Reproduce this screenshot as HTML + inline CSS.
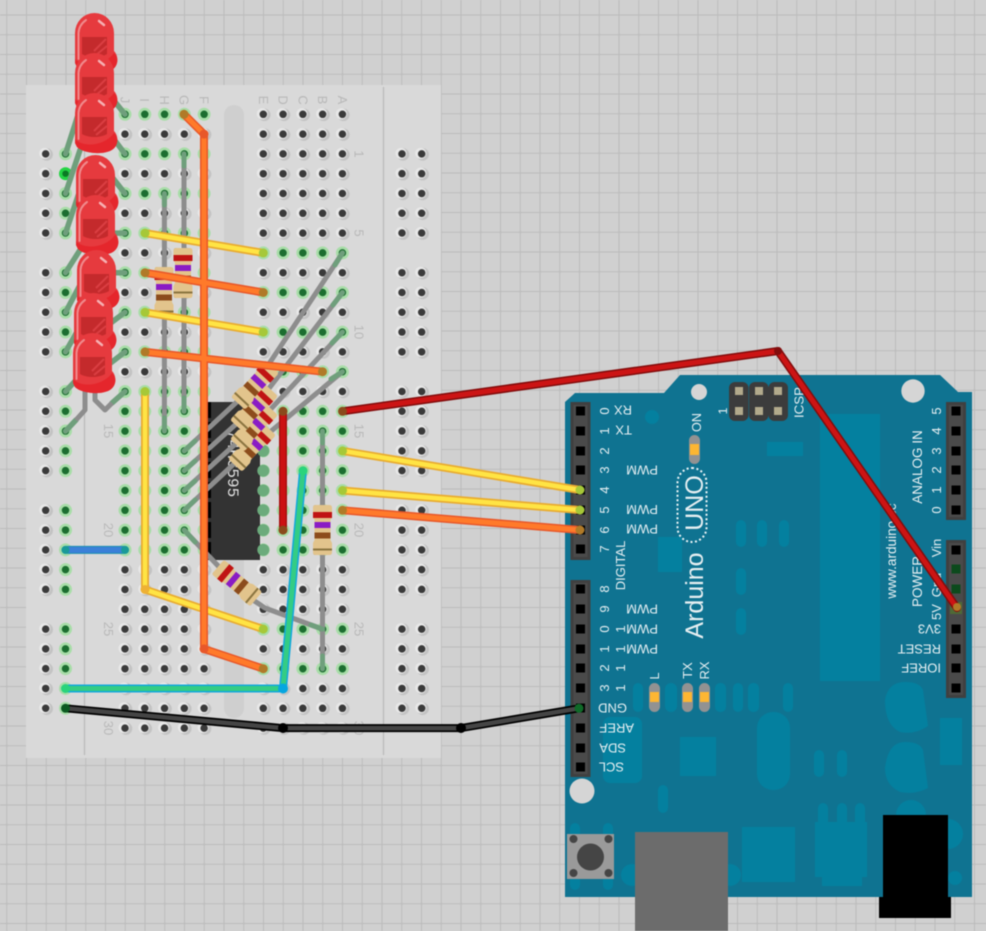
<!DOCTYPE html>
<html><head><meta charset="utf-8"><style>
html,body{margin:0;padding:0;background:#cfcfcf;overflow:hidden}
svg{display:block;filter:blur(.4px)}
text{font-family:"Liberation Sans",sans-serif}
</style></head><body>
<svg xmlns="http://www.w3.org/2000/svg" width="986" height="931" viewBox="0 0 986 931">
<defs>
<pattern id="grid" width="19.75" height="19.75" patternUnits="userSpaceOnUse" x="6.25" y="14.5">
<rect width="19.75" height="19.75" fill="#d0d0d0"/>
<path d="M.5 0V19.75M0 .5H19.75" stroke="#bbbbbb" stroke-width="1" fill="none"/>
</pattern>
<path id="g" d="M125 134.1H204.2M125 173.7H204.2M125 213.3H204.2M125 252.9H204.2M125 292.5H204.2M125 332.1H204.2M125 371.7H204.2M125 569.7H204.2M125 589.5H204.2M125 609.3H204.2M125 629.1H204.2M125 648.9H204.2M125 668.7H204.2M125 688.5H204.2M125 708.3H204.2M125 728.1H204.2
M263.3 114.3H342.5M263.3 134.1H342.5M263.3 153.9H342.5M263.3 173.7H342.5M263.3 193.5H342.5M263.3 213.3H342.5M263.3 233.1H342.5M263.3 272.7H342.5M263.3 312.3H342.5M263.3 351.9H342.5M263.3 391.5H342.5M263.3 569.7H342.5M263.3 589.5H342.5M263.3 609.3H342.5M263.3 648.9H342.5M263.3 688.5H342.5M263.3 708.3H342.5M263.3 728.1H342.5
M45.7 153.9V233.1M45.7 272.7V351.9M45.7 391.5V470.7M45.7 510.3V589.5M45.7 629.1V708.3
M402 153.9V233.1M402 272.7V351.9M402 391.5V470.7M402 510.3V589.5M402 629.1V708.3
M421.7 153.9V233.1M421.7 272.7V351.9M421.7 391.5V470.7M421.7 510.3V589.5M421.7 629.1V708.3"/>
<path id="v" d="M125 114.3H204.2M125 153.9H204.2M125 193.5H204.2M125 233.1H204.2M125 272.7H204.2M125 312.3H204.2M125 351.9H204.2M125 391.5H204.2M125 411.3H204.2M125 431.1H204.2M125 450.9H204.2M125 470.7H204.2M125 490.5H204.2M125 510.3H204.2M125 530.1H204.2M125 549.9H204.2
M263.3 252.9H342.5M263.3 292.5H342.5M263.3 332.1H342.5M263.3 371.7H342.5M263.3 411.3H342.5M263.3 431.1H342.5M263.3 450.9H342.5M263.3 470.7H342.5M263.3 490.5H342.5M263.3 510.3H342.5M263.3 530.1H342.5M263.3 549.9H342.5M263.3 629.1H342.5M263.3 668.7H342.5
M65.5 153.9V233.1M65.5 272.7V351.9M65.5 391.5V470.7M65.5 510.3V589.5M65.5 629.1V708.3"/>
<g id="res">
<path d="M-25-7Q-25-9.500-22-9.500H-13L-10-8H10L13-9.500H22Q25-9.500 25-7V7Q25 9.500 22 9.500H13L10 8H-10L-13 9.500H-22Q-25 9.500-25 7Z" fill="#e2c48c"/>
<path d="M-25 6Q-25 9.500-22 9.500H-13L-10 8H10L13 9.500H22Q25 9.500 25 6V7Q25 9.500 22 9.500H13L10 8H-10L-13 9.500H-22Q-25 9.500-25 7Z" fill="#c4a066"/>
<rect x="-18" y="-9.500" width="6" height="19" fill="#c01414"/>
<rect x="-8" y="-8" width="6" height="16" fill="#8a1cc4"/>
<rect x="2.500" y="-8" width="6" height="16" fill="#8c4c1c"/>
<rect x="18.500" y="-9.500" width="2" height="19" fill="#8a7440"/>
</g>
<g id="led">
<path d="M0 20A19.500 20 0 0 1 39 20V38C44 43 44 54 35 58C25 62 8 60 2 54L0 50Z" fill="#e63a3e"/>
<path d="M0 46C8 55 30 53 39 40C44 44 44 54 35 58C25 62 8 60 2 54L0 50Z" fill="#e5262c"/>
<path d="M7 24H32V41C25 45 14 45 7 41Z" fill="#c42a2c"/>
<path d="M19 38L31 26M21 42L32 33" stroke="#da3e42" stroke-width="2" fill="none"/>
<path d="M3.500 46V20Q4 12 11 7" stroke="#f08a8c" stroke-width="2" fill="none" stroke-linecap="round"/>
<path d="M24 8L29 12" stroke="#f6b0b2" stroke-width="2.500" stroke-linecap="round"/>
</g>
<rect id="pin" x="-4.500" y="-4.500" width="9" height="9" fill="#000"/>
</defs>

<rect width="986" height="931" fill="url(#grid)"/>

<!-- breadboard -->
<rect x="26" y="85" width="415" height="673" fill="#d9d9d9"/>
<rect x="224" y="105" width="20" height="613" rx="10" fill="#cfcfcf"/>
<path d="M84.500 87V755M383.500 87V755" stroke="#b9b9b9" stroke-width="1.200"/>

<g font-size="13" fill="#b8b8b8">
<text transform="translate(120.500 100) rotate(90)" text-anchor="middle">J</text>
<text transform="translate(140 100) rotate(90)" text-anchor="middle">I</text>
<text transform="translate(160 100) rotate(90)" text-anchor="middle">H</text>
<text transform="translate(179.500 100) rotate(90)" text-anchor="middle">G</text>
<text transform="translate(199.500 100) rotate(90)" text-anchor="middle">F</text>
<text transform="translate(259 100) rotate(90)" text-anchor="middle">E</text>
<text transform="translate(278.500 100) rotate(90)" text-anchor="middle">D</text>
<text transform="translate(298.500 100) rotate(90)" text-anchor="middle">C</text>
<text transform="translate(318 100) rotate(90)" text-anchor="middle">B</text>
<text transform="translate(338 100) rotate(90)" text-anchor="middle">A</text>
<text transform="translate(354.500 154) rotate(90)" text-anchor="middle">1</text>
<text transform="translate(354.500 233) rotate(90)" text-anchor="middle">5</text>
<text transform="translate(354.500 332) rotate(90)" text-anchor="middle">10</text>
<text transform="translate(354.500 431) rotate(90)" text-anchor="middle">15</text>
<text transform="translate(354.500 530) rotate(90)" text-anchor="middle">20</text>
<text transform="translate(354.500 629) rotate(90)" text-anchor="middle">25</text>
<text transform="translate(354.500 728) rotate(90)" text-anchor="middle">30</text>
<text transform="translate(104 431) rotate(90)" text-anchor="middle">15</text>
<text transform="translate(104 530) rotate(90)" text-anchor="middle">20</text>
<text transform="translate(104 629) rotate(90)" text-anchor="middle">25</text>
<text transform="translate(104 728) rotate(90)" text-anchor="middle">30</text>
</g>

<!-- holes -->
<g fill="none" stroke-linecap="round" stroke-dasharray="0 19.78">
<use href="#g" stroke="#c3c3c3" stroke-width="12.500" transform="translate(1 .5)"/>
<use href="#g" stroke="#e8e8e8" stroke-width="11" transform="translate(-1 -.5)"/>
<use href="#g" stroke="#3a3a3a" stroke-width="7.500"/>
<use href="#v" stroke="#a8dda8" stroke-width="13"/>
<use href="#v" stroke="#1c6e30" stroke-width="7.500"/>
</g>
<circle cx="65.500" cy="173.700" r="6.500" fill="#24d444"/>
<circle cx="65.500" cy="173.700" r="3.200" fill="#0b7a24"/>

<!-- IC -->
<rect x="208" y="402" width="52" height="158" fill="#333"/>
<path d="M209.500 402V560" stroke="#000" stroke-width="3" stroke-dasharray="16 4"/>
<text transform="translate(228 430) rotate(90)" font-size="16" fill="#e0e0e0" style="font-family:'Liberation Mono',monospace">74HC595</text>
<g fill="#6cab7c">
<circle cx="263.300" cy="470.700" r="6"/><circle cx="263.300" cy="490.500" r="6"/><circle cx="263.300" cy="510.300" r="6"/><circle cx="263.300" cy="530.100" r="6"/><circle cx="263.300" cy="549.900" r="6"/><circle cx="263.300" cy="450.900" r="6"/>
</g>

<!-- resistor legs -->
<g fill="none" stroke="#8d8d8d" stroke-width="5" stroke-linecap="round" stroke-linejoin="round">
<path d="M184 153.900V411.300M164.400 193.500V431.100M322.500 431.100V668.700"/>
<path d="M184.200 450.900L255 385L342.500 252.900M184.200 470.700L254 408L342.500 292.500M184.200 490.500L254 427L342.500 332.100M184.200 510.300L252 447L342.500 371.700"/>
<path d="M184.200 530.100L222 570L250 598L265 608L322.500 629.100"/>
</g>
<g fill="none" stroke="#6f9f7c" stroke-width="5" stroke-linecap="round">
<path d="M184 153.900V166M184 398V411.300M164.400 193.500V205M164.400 418V431.100M322.500 431.100V443M322.500 656V668.700"/>
<path d="M184.200 450.900L195 441M184.200 470.700L195 461M184.200 490.500L195 481M184.200 510.300L195 500M342.500 252.900L335 265M342.500 292.500L333 305M342.500 332.100L332 343M342.500 371.700L331 379M184.200 530.100L195 542M322.500 629.100L311 625"/>
</g>
<use href="#res" transform="translate(164 292) rotate(90)"/>
<use href="#res" transform="translate(183 273) rotate(90)"/>
<use href="#res" transform="translate(322.500 530) rotate(90)"/>
<use href="#res" transform="translate(237 583) rotate(40)"/>
<use href="#res" transform="translate(252 447) rotate(133)"/>
<use href="#res" transform="translate(254 427) rotate(133)"/>
<use href="#res" transform="translate(254 408) rotate(133)"/>
<use href="#res" transform="translate(255 385) rotate(133)"/>

<!-- LED legs -->
<g fill="none" stroke="#6f9f7c" stroke-width="5.500" stroke-linecap="round" stroke-linejoin="round">
<path d="M125 114.300L115 102M125 153.900L113 138M125 193.500L112 177M125 233.100H110M125 272.700H110M125 312.300L108 325M125 351.900L108 365"/>
<path d="M65.500 153.900L78 115M65.500 193.500L80 150M65.500 233.100L80 190M65.500 272.700L80 250M65.500 312.300L80 285M65.500 351.900L78 330M65.500 391.500L78 378"/>
<path d="M125 391.500L112 403M65.500 431.100L76 420"/>
</g>
<g fill="none" stroke="#8d8d8d" stroke-width="5" stroke-linejoin="round">
<path d="M85 388V410L76 420M95 388V400L105 410L112 403"/>
</g>

<!-- LEDs -->
<use href="#led" x="75" y="13"/>
<use href="#led" x="75" y="53"/>
<use href="#led" x="75" y="93"/>
<use href="#led" x="76" y="155"/>
<use href="#led" x="76" y="195"/>
<use href="#led" x="77" y="250"/>
<use href="#led" x="74" y="293"/>
<use href="#led" x="73" y="333"/>

<!-- Arduino -->
<path d="M565 402L575 393H664L680 375H940L958 392H972V897H565Z" fill="#0f7391"/>
<g fill="#04809f">
<rect x="820" y="414" width="60" height="267"/>
<rect x="767" y="442" width="36" height="14"/>
<circle cx="652" cy="417" r="7"/>
<rect x="658" y="537" width="24" height="35"/>
<rect x="736" y="520" width="10" height="27" rx="5"/><rect x="757" y="520" width="10" height="27" rx="5"/><rect x="779" y="520" width="10" height="27" rx="5"/>
<rect x="736" y="568" width="10" height="27" rx="5"/><rect x="736" y="608" width="10" height="27" rx="5"/>
<rect x="633" y="683" width="10" height="29" rx="5"/><rect x="665" y="683" width="12" height="29" rx="6"/><rect x="715" y="683" width="11" height="29" rx="5"/><rect x="733" y="683" width="10" height="29" rx="5"/><rect x="748" y="683" width="11" height="29" rx="5"/><rect x="783" y="683" width="10" height="29" rx="5"/>
<rect x="680" y="737" width="36" height="39"/>
<rect x="757" y="712" width="33" height="78" rx="16"/>
<rect x="814" y="750" width="10" height="27" rx="5"/><rect x="837" y="750" width="10" height="27" rx="5"/>
<rect x="742" y="827" width="53" height="55"/>
<rect x="815" y="822" width="52" height="55"/><rect x="822" y="877" width="40" height="9"/>
<rect x="818" y="803" width="10" height="25" rx="5"/><rect x="837" y="803" width="10" height="25" rx="5"/><rect x="855" y="803" width="10" height="25" rx="5"/>
<rect x="603" y="717" width="39" height="66" rx="7"/>
<rect x="658" y="785" width="10" height="28" rx="5"/>
<rect x="570" y="823" width="10" height="67" rx="5"/><rect x="603" y="823" width="10" height="67" rx="5"/>
<circle cx="632" cy="875" r="11"/><circle cx="730" cy="875" r="11"/>
<path d="M885 700Q888 682 905 682Q920 682 923 690L928 726Q915 735 900 732Q885 725 885 700Z"/>
<path d="M885 768Q888 742 905 742Q920 742 923 750L928 788Q915 795 900 792Q885 785 885 768Z"/>
<rect x="940" y="718" width="22" height="47"/>
<circle cx="911" cy="815" r="15"/><circle cx="948" cy="834" r="15"/><circle cx="955" cy="878" r="7"/>
</g>
<g fill="#d5d5d5"><circle cx="699" cy="392" r="8"/><circle cx="913" cy="391" r="11.700"/><circle cx="582" cy="791" r="12.500"/></g>

<!-- headers -->
<g fill="#404040">
<rect x="570.500" y="402" width="20" height="158"/>
<rect x="570.500" y="580" width="20" height="197"/>
<rect x="946" y="402" width="20" height="118"/>
<rect x="946" y="540" width="20" height="158"/>
</g>
<g fill="#4a4a4a">
<path d="M573.500 405H587.500V557H573.500ZM573.500 583H587.500V774H573.500ZM949 405H963V517H949ZM949 543H963V695H949Z"/>
</g>
<g>
<use href="#pin" x="580.500" y="411"/><use href="#pin" x="580.500" y="431"/><use href="#pin" x="580.500" y="451"/><use href="#pin" x="580.500" y="470"/><use href="#pin" x="580.500" y="490"/><use href="#pin" x="580.500" y="510"/><use href="#pin" x="580.500" y="530"/><use href="#pin" x="580.500" y="549"/>
<use href="#pin" x="580.500" y="589"/><use href="#pin" x="580.500" y="609"/><use href="#pin" x="580.500" y="629"/><use href="#pin" x="580.500" y="649"/><use href="#pin" x="580.500" y="668"/><use href="#pin" x="580.500" y="688"/><use href="#pin" x="580.500" y="708"/><use href="#pin" x="580.500" y="728"/><use href="#pin" x="580.500" y="748"/><use href="#pin" x="580.500" y="767"/>
<use href="#pin" x="956" y="411"/><use href="#pin" x="956" y="431"/><use href="#pin" x="956" y="451"/><use href="#pin" x="956" y="470"/><use href="#pin" x="956" y="490"/><use href="#pin" x="956" y="510"/>
<use href="#pin" x="956" y="550"/><use href="#pin" x="956" y="629"/><use href="#pin" x="956" y="649"/><use href="#pin" x="956" y="668"/><use href="#pin" x="956" y="688"/>
</g>
<rect x="951.500" y="564.500" width="9" height="9" fill="#0c4a1c"/>
<rect x="951.500" y="584.500" width="9" height="9" fill="#0c4a1c"/>
<rect x="950" y="602" width="12" height="12" fill="#4f6a36"/>

<!-- ICSP -->
<g fill="#3c3c3c">
<rect x="729" y="382" width="19.500" height="39" rx="6"/><rect x="749" y="382" width="19.500" height="39" rx="6"/><rect x="768.500" y="382" width="19.500" height="39" rx="6"/>
</g>
<g fill="#b2aa8c">
<rect x="735" y="387" width="8" height="8"/><rect x="755" y="387" width="8" height="8"/><rect x="774" y="387" width="8" height="8"/>
<rect x="735" y="407" width="8" height="8"/><rect x="755" y="407" width="8" height="8"/><rect x="774" y="407" width="8" height="8"/>
</g>

<!-- LED pills -->
<g fill="#929292"><rect x="689" y="435" width="11" height="29" rx="5.500"/><rect x="649" y="683" width="11" height="29" rx="5.500"/><rect x="682" y="683" width="11" height="29" rx="5.500"/><rect x="699" y="683" width="11" height="29" rx="5.500"/></g>
<g fill="#fdb632"><rect x="690" y="444" width="9" height="11"/><rect x="650" y="692" width="9" height="10"/><rect x="683" y="692" width="9" height="10"/><rect x="700" y="692" width="9" height="10"/></g>

<!-- Arduino text -->
<g fill="#e6eff2" font-size="13">
<g text-anchor="middle">
<text transform="translate(609 411) rotate(-90)">0</text><text transform="translate(609 431) rotate(-90)">1</text><text transform="translate(609 451) rotate(-90)">2</text><text transform="translate(609 470) rotate(-90)">3</text><text transform="translate(609 490) rotate(-90)">4</text><text transform="translate(609 510) rotate(-90)">5</text><text transform="translate(609 530) rotate(-90)">6</text><text transform="translate(609 549) rotate(-90)">7</text>
<text transform="translate(609 589) rotate(-90)">8</text><text transform="translate(609 609) rotate(-90)">9</text><text transform="translate(609 629) rotate(-90)">0</text><text transform="translate(609 649) rotate(-90)">1</text><text transform="translate(609 668) rotate(-90)">2</text><text transform="translate(609 688) rotate(-90)">3</text>
<text transform="translate(625 629) rotate(-90)">1</text><text transform="translate(625 649) rotate(-90)">1</text><text transform="translate(625 668) rotate(-90)">1</text><text transform="translate(625 688) rotate(-90)">1</text>
<text transform="translate(941 411) rotate(-90)">5</text><text transform="translate(941 431) rotate(-90)">4</text><text transform="translate(941 451) rotate(-90)">3</text><text transform="translate(941 470) rotate(-90)">2</text><text transform="translate(941 490) rotate(-90)">1</text><text transform="translate(941 510) rotate(-90)">0</text>
<text transform="translate(941 548) rotate(-90)">Vin</text><text transform="translate(941 585) rotate(-90)">Gnd</text><text transform="translate(941 612) rotate(-90)">5V</text>
<text transform="translate(625 565.500) rotate(-90)">DIGITAL</text>
<text transform="translate(922 467) rotate(-90)" font-size="13.500">ANALOG IN</text>
<text transform="translate(922 581.500) rotate(-90)" font-size="13.500">POWER</text>
<text transform="translate(896 551) rotate(-90)" font-size="13.600">www.arduino.cc</text>
<text transform="translate(803.500 402.500) rotate(-90)" font-size="13.300">ICSP</text>
<text transform="translate(727 411) rotate(-90)" font-size="12">1</text>
<text transform="translate(701 422.500) rotate(-90)" font-size="12.600">ON</text>
<text transform="translate(703 595.500) rotate(-90)" font-size="25">Arduino</text>
<text transform="translate(703 503) rotate(-90)" font-size="25">UNO</text>
<text transform="translate(659 676) rotate(-90)">L</text>
<text transform="translate(692 670.500) rotate(-90)">TX</text>
<text transform="translate(709 670.500) rotate(-90)">RX</text>
</g>
<text transform="rotate(180 658 465.500)" x="658" y="465.500">PWM</text>
<text transform="rotate(180 658 505)" x="658" y="505">PWM</text>
<text transform="rotate(180 658 524.500)" x="658" y="524.500">PWM</text>
<text transform="rotate(180 658 604.500)" x="658" y="604.500">PWM</text>
<text transform="rotate(180 658 624.500)" x="658" y="624.500">PWM</text>
<text transform="rotate(180 658 644.500)" x="658" y="644.500">PWM</text>
<text transform="rotate(180 632 405.500)" x="632" y="405.500">RX</text>
<text transform="rotate(180 632 425.500)" x="632" y="425.500">TX</text>
<text transform="rotate(180 627 703.500)" x="627" y="703.500">GND</text>
<text transform="rotate(180 634 723.500)" x="634" y="723.500">AREF</text>
<text transform="rotate(180 626 743.500)" x="626" y="743.500">SDA</text>
<text transform="rotate(180 624 762.500)" x="624" y="762.500">SCL</text>
<text transform="rotate(180 941 624.500)" x="941" y="624.500">3V3</text>
<text transform="rotate(180 941 644.500)" x="941" y="644.500">RESET</text>
<text transform="rotate(180 941 663.500)" x="941" y="663.500">IOREF</text>
</g>
<rect x="677.500" y="468" width="29" height="74" rx="14.500" fill="none" stroke="#eef6f8" stroke-width="2" stroke-dasharray="2 2.500"/>

<!-- button, usb, jack -->
<rect x="567" y="834" width="47" height="45" fill="#9a9a9a"/>
<g fill="#454545"><circle cx="590.500" cy="857" r="13.500"/><circle cx="573.500" cy="839" r="4"/><circle cx="608.500" cy="839" r="4"/><circle cx="573.500" cy="873" r="4"/><circle cx="608.500" cy="873" r="4"/></g>
<rect x="635" y="832" width="93" height="99" fill="#6c6c6c"/>
<rect x="883" y="815" width="65" height="82" fill="#000"/>
<rect x="879" y="897" width="72" height="21" fill="#000"/>

<!-- wires -->
<g fill="none" stroke-linecap="round" stroke-linejoin="round">
<g stroke="#e9ac30" stroke-width="8">
<path d="M145 233.100L263.300 252.900M145 312.300L263.300 332.100M145 391.500V589.500L263.300 629.100M342.500 450.900L580 490M342.500 490.500L580 510"/>
</g>
<g stroke="#ffe444" stroke-width="4.500">
<path d="M145 233.100L263.300 252.900M145 312.300L263.300 332.100M145 391.500V589.500L263.300 629.100M342.500 450.900L580 490M342.500 490.500L580 510"/>
</g>
<g stroke="#e8582a" stroke-width="8">
<path d="M145 272.700L263.300 292.500M145 351.900L322.500 371.700M184 114.300L204 134.100V648.900L263.300 668.700M342.500 510.300L580 530"/>
</g>
<g stroke="#ff7a2a" stroke-width="5">
<path d="M145 272.700L263.300 292.500M145 351.900L322.500 371.700M184 114.300L204 134.100V648.900L263.300 668.700M342.500 510.300L580 530"/>
</g>
<path d="M283 411.300V530.100" stroke="#a81010" stroke-width="8"/>
<path d="M283 411.300V530.100" stroke="#cc1212" stroke-width="5"/>
<path d="M65.500 549.900H125" stroke="#1a8fb0" stroke-width="8"/>
<path d="M65.500 549.900H125" stroke="#3b80d8" stroke-width="6"/>
<path d="M65.500 688.500H283L303 470.700" stroke="#12a8dc" stroke-width="8"/>
<path d="M65.500 688.500H283L303 470.700" stroke="#34cc84" stroke-width="5"/>
<path d="M65.500 708.300L283 728.100H461L579 708.300" stroke="#000" stroke-width="8"/>
<path d="M65.500 708.300L283 728.100H461L579 708.300" stroke="#454545" stroke-width="4.500"/>
<path d="M342.500 411.300L778 351L957 608" stroke="#820c0c" stroke-width="8"/>
<path d="M342.500 411.300L778 351L957 608" stroke="#cc1414" stroke-width="5"/>
</g>
<g>
<circle cx="778" cy="351" r="4" fill="#820c0c"/>
<circle cx="283" cy="728" r="5" fill="#000"/><circle cx="461" cy="728" r="5" fill="#000"/>
<circle cx="283" cy="688.500" r="5" fill="#06a6e0"/>
<circle cx="145" cy="589.500" r="4.500" fill="#eeb134"/><circle cx="204" cy="134.100" r="4.500" fill="#e8582a"/><circle cx="204" cy="648.900" r="4.500" fill="#e8582a"/>
<g fill="#a6c838"><circle cx="145" cy="233.100" r="4.500"/><circle cx="263.300" cy="252.900" r="4.500"/><circle cx="145" cy="312.300" r="4.500"/><circle cx="263.300" cy="332.100" r="4.500"/><circle cx="145" cy="391.500" r="4.500"/><circle cx="263.300" cy="629.100" r="4.500"/><circle cx="342.500" cy="450.900" r="4.500"/><circle cx="580" cy="490" r="4.500"/><circle cx="342.500" cy="490.500" r="4.500"/><circle cx="580" cy="510" r="4.500"/></g>
<g fill="#b07a28"><circle cx="145" cy="272.700" r="4.500"/><circle cx="263.300" cy="292.500" r="4.500"/><circle cx="145" cy="351.900" r="4.500"/><circle cx="322.500" cy="371.700" r="4.500"/><circle cx="184" cy="114.300" r="4.500"/><circle cx="263.300" cy="668.700" r="4.500"/><circle cx="342.500" cy="510.300" r="4.500"/><circle cx="580" cy="530" r="4.500"/><circle cx="957" cy="607" r="4"/></g>
<g fill="#8a4a1c"><circle cx="283" cy="411.300" r="4.500"/><circle cx="283" cy="530.100" r="4.500"/><circle cx="342.500" cy="411.300" r="4.500"/></g>
<g fill="#1a9a98"><circle cx="65.500" cy="549.900" r="4"/><circle cx="125" cy="549.900" r="4"/></g>
<circle cx="65.500" cy="688.500" r="4.500" fill="#2ad47c"/>
<circle cx="303" cy="470.700" r="4.500" fill="#2ad47c"/>
<circle cx="65.500" cy="708.300" r="4.500" fill="#0b5a20"/>
<circle cx="579" cy="708.300" r="4.500" fill="#0f6a28"/>
</g>
</svg>
</body></html>
